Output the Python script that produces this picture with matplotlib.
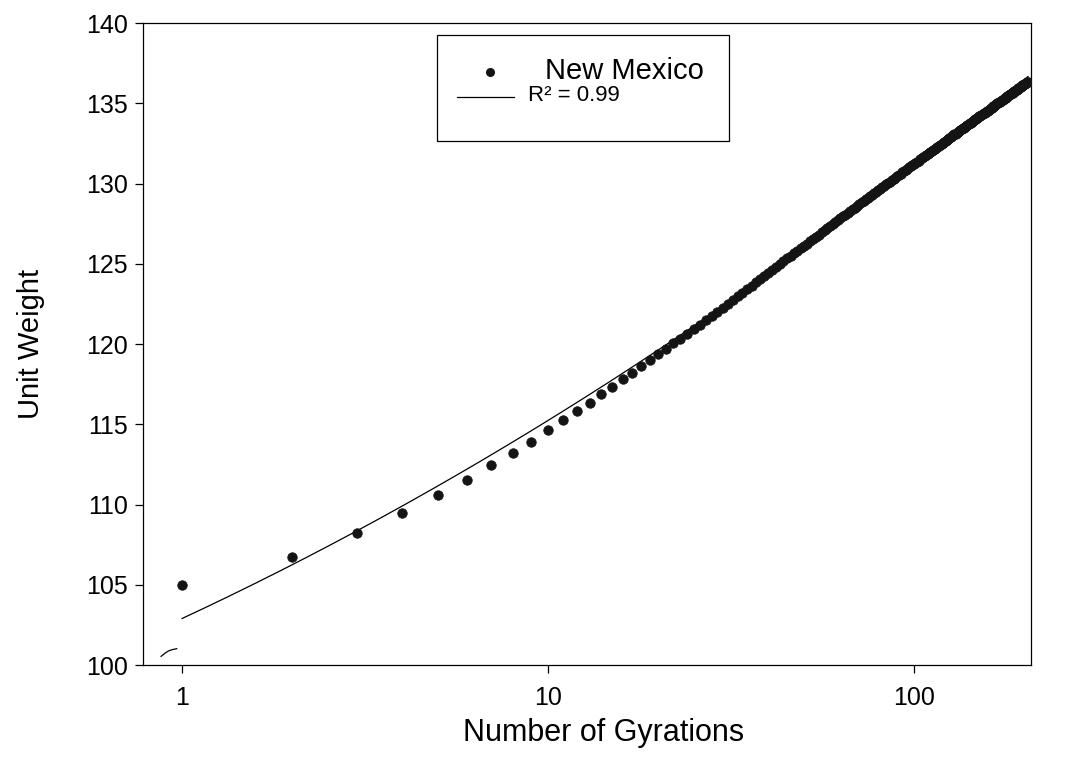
import numpy as np
import matplotlib
matplotlib.use("Agg")
import matplotlib.pyplot as plt
from matplotlib.patches import Rectangle
from matplotlib.lines import Line2D

# Gyratory compaction record: unit weight after each gyration (1 .. 205)
gyrations = np.arange(1, 206)
unit_weight = [
    105.00, 106.75, 108.20, 109.50, 110.60, 111.55, 112.45, 113.20, 113.90, 114.65,
    115.25, 115.83, 116.30, 116.87, 117.34, 117.84, 118.20, 118.63, 119.00, 119.38,
    119.69, 120.06, 120.31, 120.64, 120.92, 121.20, 121.47, 121.73, 122.00, 122.26,
    122.51, 122.75, 122.98, 123.21, 123.43, 123.64, 123.85, 124.05, 124.25, 124.44,
    124.63, 124.81, 124.98, 125.16, 125.33, 125.49, 125.65, 125.81, 125.96, 126.11,
    126.26, 126.41, 126.55, 126.69, 126.82, 126.96, 127.09, 127.22, 127.35, 127.47,
    127.59, 127.71, 127.83, 127.95, 128.06, 128.18, 128.29, 128.40, 128.50, 128.61,
    128.71, 128.82, 128.92, 129.02, 129.12, 129.22, 129.31, 129.41, 129.50, 129.59,
    129.68, 129.77, 129.86, 129.95, 130.03, 130.12, 130.20, 130.29, 130.37, 130.45,
    130.53, 130.61, 130.69, 130.77, 130.84, 130.92, 131.00, 131.07, 131.14, 131.22,
    131.29, 131.36, 131.43, 131.50, 131.57, 131.64, 131.71, 131.78, 131.84, 131.91,
    131.97, 132.04, 132.10, 132.17, 132.23, 132.29, 132.35, 132.42, 132.48, 132.54,
    132.60, 132.66, 132.71, 132.77, 132.83, 132.89, 132.94, 133.00, 133.06, 133.11,
    133.17, 133.22, 133.28, 133.33, 133.38, 133.44, 133.49, 133.54, 133.59, 133.64,
    133.69, 133.75, 133.80, 133.85, 133.89, 133.94, 133.99, 134.04, 134.09, 134.14,
    134.18, 134.23, 134.28, 134.32, 134.37, 134.42, 134.46, 134.51, 134.55, 134.60,
    134.64, 134.69, 134.73, 134.77, 134.82, 134.86, 134.90, 134.94, 134.99, 135.03,
    135.07, 135.11, 135.15, 135.19, 135.23, 135.27, 135.31, 135.35, 135.39, 135.43,
    135.47, 135.51, 135.55, 135.59, 135.63, 135.67, 135.70, 135.74, 135.78, 135.82,
    135.85, 135.89, 135.93, 135.96, 136.00, 136.03, 136.07, 136.11, 136.14, 136.18,
    136.21, 136.25, 136.28, 136.32, 136.35,
]

# short leftover trace near the lower-left corner
trace_x = [0.876, 0.900, 0.918, 0.940, 0.967]
trace_y = [100.54, 100.75, 100.88, 100.96, 101.02]

x_ticks = [1, 10, 100]
x_tick_labels = ["1", "10", "100"]
y_ticks = [100, 105, 110, 115, 120, 125, 130, 135, 140]

series_label = "New Mexico"
fit_label = "R\u00b2 = 0.99"
x_title = "Number of Gyrations"
y_title = "Unit Weight"

plt.rcParams["font.family"] = ["Liberation Sans", "DejaVu Sans"]

fig = plt.figure(figsize=(10.68, 7.78), dpi=100)
ax = fig.add_axes([0.1339, 0.1452, 0.8315, 0.8252])

# quadratic regression of unit weight on log10(gyrations)
logn = np.log10(gyrations)
coef = np.polyfit(logn, unit_weight, 2)
xs = np.logspace(0, np.log10(gyrations[-1]), 400)
ys = np.polyval(coef, np.log10(xs))

ink = "#141414"
ax.plot(xs, ys, color="black", lw=0.9, zorder=2)
ax.plot(trace_x, trace_y, color="black", lw=0.9, zorder=2)
ax.plot(gyrations, unit_weight, "o", ms=6.8, color=ink, mec=ink, mew=0.6, zorder=3)

ax.set_xscale("log")
ax.set_xlim(0.782, 209)
ax.set_ylim(100, 140)
ax.set_xticks(x_ticks)
ax.set_xticklabels(x_tick_labels)
ax.xaxis.set_minor_locator(matplotlib.ticker.NullLocator())
ax.set_yticks(y_ticks)
ax.tick_params(axis="both", which="major", direction="out", length=6, width=0.9,
               labelsize=18, top=False, right=False, colors="black")
ax.tick_params(axis="x", pad=9)
ax.tick_params(axis="y", pad=5)
for s in ax.spines.values():
    s.set_linewidth(0.9)
    s.set_color("black")

ax.set_xlabel(x_title, fontsize=22, va="center")
ax.xaxis.set_label_coords(0.519, -0.106)
ax.set_ylabel(y_title, fontsize=21, va="center")
ax.yaxis.set_label_coords(-0.126, 0.5)

# legend box
ax.add_patch(Rectangle((0.331, 0.817), 0.329, 0.164, transform=ax.transAxes,
                       fill=False, edgecolor="black", lw=0.9, zorder=5))
ax.add_line(Line2D([0.391], [0.924], transform=ax.transAxes, marker="o", ms=5.5,
                   color=ink, ls="none", zorder=6))
ax.text(0.4527, 0.926, series_label, transform=ax.transAxes, fontsize=21,
        ha="left", va="center", zorder=6)
ax.add_line(Line2D([0.3536, 0.4178], [0.8846, 0.8846], transform=ax.transAxes,
                   color="black", lw=0.9, zorder=6))
ax.text(0.4336, 0.887, fit_label, transform=ax.transAxes, fontsize=16,
        ha="left", va="center", zorder=6)

fig.savefig("out.png", dpi=100, facecolor="white")
